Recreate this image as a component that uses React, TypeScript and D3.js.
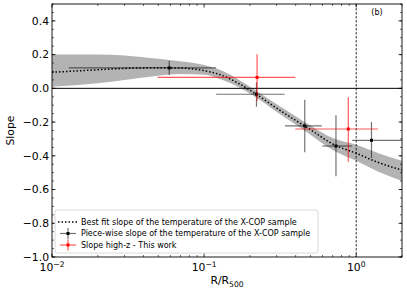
import React from "react";
import * as d3 from "d3";

const fitX = [0.01, 0.02, 0.03, 0.05, 0.07, 0.1, 0.13, 0.17, 0.22, 0.3, 0.4, 0.5, 0.7, 1.0, 1.4, 2.0];
const fitMid = [0.095, 0.11, 0.118, 0.122, 0.12, 0.105, 0.078, 0.027, -0.035, -0.118, -0.19, -0.245, -0.33, -0.385, -0.44, -0.485];
const fitLo = [0.01, 0.03, 0.05, 0.075, 0.085, 0.08, 0.052, 0.005, -0.055, -0.14, -0.215, -0.275, -0.365, -0.43, -0.495, -0.55];
const fitHi = [0.2, 0.2, 0.195, 0.175, 0.16, 0.138, 0.105, 0.05, -0.015, -0.095, -0.165, -0.22, -0.295, -0.335, -0.385, -0.43];

const blkX = [0.059, 0.221, 0.459, 0.736, 1.26];
const blkY = [0.121, -0.035, -0.223, -0.342, -0.308];
const blkXlo = [0.0129, 0.12, 0.34, 0.6, 0.94];
const blkXhi = [0.12, 0.338, 0.594, 0.937, 2.0];
const blkYlo = [0.079, -0.109, -0.379, -0.521, -0.413];
const blkYhi = [0.162, 0.036, -0.067, -0.16, -0.2];

const redX = [0.223, 0.887];
const redY = [0.065, -0.241];
const redXlo = [0.0495, 0.398];
const redXhi = [0.398, 1.39];
const redYlo = [-0.075, -0.435];
const redYhi = [0.202, -0.053];

const yTicks = [0.4, 0.2, 0.0, -0.2, -0.4, -0.6, -0.8, -1.0];
const xTickExps = [-2, -1, 0];
const legendLabels = [
  "Best fit slope of the temperature of the X-COP sample",
  "Piece-wise slope of the temperature of the X-COP sample",
  "Slope high-z - This work",
];

const L = 52, R = 402, T = 4, B = 257;
const font = "DejaVu Sans, sans-serif";

export default function App() {
  const x = d3.scaleLog().domain([0.01, 2]).range([L, R]);
  const y = d3.scaleLinear().domain([-1.0, 0.5]).range([B, T]);

  const band = d3
    .area<number>()
    .x((_, i) => x(fitX[i]))
    .y0((_, i) => y(fitLo[i]))
    .y1((_, i) => y(fitHi[i]))
    .curve(d3.curveMonotoneX);
  const mid = d3
    .line<number>()
    .x((_, i) => x(fitX[i]))
    .y((_, i) => y(fitMid[i]))
    .curve(d3.curveMonotoneX);

  const yMinor = d3.range(-1.0, 0.5001, 0.05).map((v) => Math.round(v * 100) / 100);
  const xMinor: number[] = [];
  for (let e = -2; e <= 0; e++) {
    for (let m = 1; m <= 9; m++) {
      const v = m * Math.pow(10, e);
      if (v <= 2.0001 && m !== 1) xMinor.push(v);
    }
  }

  const errbar = (
    xs: number[], ys: number[], xl: number[], xh: number[], yl: number[], yh: number[], color: string, op: number
  ) =>
    xs.map((xv, i) => (
      <g key={i}>
        <line x1={x(xl[i])} x2={Math.min(x(xh[i]), R)} y1={y(ys[i])} y2={y(ys[i])} stroke={color} strokeOpacity={op} strokeWidth={1.2} />
        <line x1={x(xv)} x2={x(xv)} y1={y(yl[i])} y2={y(yh[i])} stroke={color} strokeOpacity={op} strokeWidth={1.2} />
        <rect x={x(xv) - 1.5} y={y(ys[i]) - 1.5} width={3} height={3} fill={color} />
      </g>
    ));

  return (
    <svg width={407} height={291} style={{ display: "block", position: "absolute", left: 0, top: 0 }} fontFamily={font}>
      <rect x={0} y={0} width={407} height={291} fill="#fff" />
      <defs>
        <clipPath id="clip">
          <rect x={L} y={T} width={R - L} height={B - T} />
        </clipPath>
      </defs>
      <g clipPath="url(#clip)">
        <path d={band(fitX) || ""} fill="#b3b3b3" />
        <line x1={L} x2={R} y1={y(0)} y2={y(0)} stroke="#000" strokeWidth={1} />
        <line x1={x(1)} x2={x(1)} y1={T} y2={B} stroke="#000" strokeWidth={0.8} strokeDasharray="2.5,1.5" />
        <path d={mid(fitX) || ""} fill="none" stroke="#000" strokeWidth={1.5} strokeDasharray="1.5,2" />
        {errbar(blkX, blkY, blkXlo, blkXhi, blkYlo, blkYhi, "#000", 0.55)}
        {errbar(redX, redY, redXlo, redXhi, redYlo, redYhi, "#ff0000", 0.65)}
      </g>

      {yMinor.map((v, i) => (
        <g key={"ym" + i}>
          <line x1={L} x2={L + 2} y1={y(v)} y2={y(v)} stroke="#000" strokeWidth={0.6} />
          <line x1={R} x2={R - 2} y1={y(v)} y2={y(v)} stroke="#000" strokeWidth={0.6} />
        </g>
      ))}
      {yTicks.map((v, i) => (
        <g key={"yt" + i}>
          <line x1={L} x2={L + 3.5} y1={y(v)} y2={y(v)} stroke="#000" strokeWidth={0.8} />
          <line x1={R} x2={R - 3.5} y1={y(v)} y2={y(v)} stroke="#000" strokeWidth={0.8} />
          <text x={L - 3} y={y(v)} dy="0.36em" textAnchor="end" fontSize={10.8}>
            {d3.format(".1f")(v).replace("-", "\u2212")}
          </text>
        </g>
      ))}
      {xMinor.map((v, i) => (
        <g key={"xm" + i}>
          <line x1={x(v)} x2={x(v)} y1={B} y2={B - 2} stroke="#000" strokeWidth={0.6} />
          <line x1={x(v)} x2={x(v)} y1={T} y2={T + 2} stroke="#000" strokeWidth={0.6} />
        </g>
      ))}
      {xTickExps.map((e, i) => {
        const px = x(Math.pow(10, e));
        return (
          <g key={"xt" + i}>
            <line x1={px} x2={px} y1={B} y2={B - 3.5} stroke="#000" strokeWidth={0.8} />
            <line x1={px} x2={px} y1={T} y2={T + 3.5} stroke="#000" strokeWidth={0.8} />
            <text x={px} y={B + 14} textAnchor="middle" fontSize={10.8}>
              10
              <tspan dy={-4.5} fontSize={7.6}>{e < 0 ? "\u2212" + Math.abs(e) : String(e)}</tspan>
            </text>
          </g>
        );
      })}
      <rect x={L} y={T} width={R - L} height={B - T} fill="none" stroke="#000" strokeWidth={0.9} />

      <text x={(L + R) / 2} y={284} textAnchor="middle" fontSize={10.8}>
        R/R<tspan dy={2.5} fontSize={7.6}>500</tspan>
      </text>
      <text transform={`translate(14,${(T + B) / 2}) rotate(-90)`} textAnchor="middle" fontSize={10.8}>
        Slope
      </text>
      <text x={377} y={15} textAnchor="middle" fontSize={8}>(b)</text>

      <g>
        <rect x={55} y={210} width={263} height={43} rx={2} fill="#fff" fillOpacity={0.8} stroke="#d0d0d0" strokeWidth={0.8} />
        <line x1={58} x2={78} y1={222} y2={222} stroke="#000" strokeWidth={1.5} strokeDasharray="1.5,2" />
        <line x1={60} x2={76} y1={233.5} y2={233.5} stroke="#000" strokeOpacity={0.55} strokeWidth={1.2} />
        <line x1={68} x2={68} y1={228} y2={239} stroke="#000" strokeOpacity={0.55} strokeWidth={1.2} />
        <rect x={66.5} y={232} width={3} height={3} fill="#000" />
        <line x1={60} x2={76} y1={245} y2={245} stroke="#ff0000" strokeOpacity={0.65} strokeWidth={1.2} />
        <line x1={68} x2={68} y1={239.5} y2={250.5} stroke="#ff0000" strokeOpacity={0.65} strokeWidth={1.2} />
        <rect x={66.5} y={243.5} width={3} height={3} fill="#ff0000" />
        {legendLabels.map((t, i) => (
          <text key={i} x={81} y={222 + i * 11.5} dy="0.35em" fontSize={8}>{t}</text>
        ))}
      </g>
    </svg>
  );
}
